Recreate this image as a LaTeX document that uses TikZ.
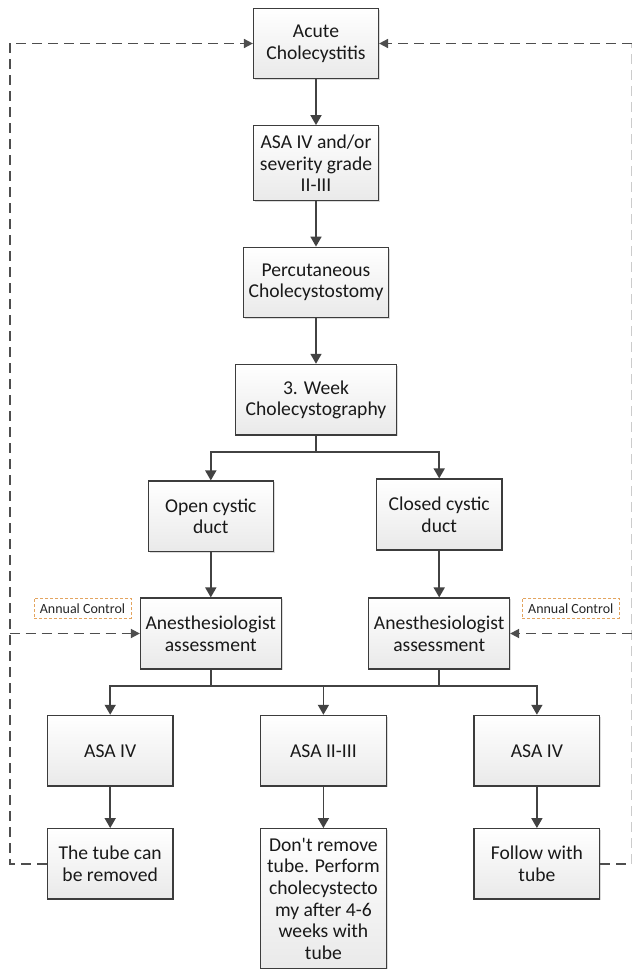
\documentclass[tikz,border=0pt]{standalone}
\usepackage{fontspec}
\setmainfont{Carlito}
\usetikzlibrary{arrows.meta,shadows,calc}
\definecolor{boxline}{HTML}{3C3C3C}
\definecolor{arrcol}{HTML}{424242}
\definecolor{dashcol}{HTML}{4E4E4E}
\definecolor{orangeline}{HTML}{E3A45F}
\begin{document}
\begin{tikzpicture}[x=1pt,y=-1pt,
  box/.style={draw=boxline, line width=1.2pt, top color=white, bottom color=gray!17,
    drop shadow={shadow xshift=1.4pt, shadow yshift=-1.4pt, opacity=0.28},
    align=center, inner sep=2pt, font=\fontsize{19.6}{21.6}\selectfont, text=black!90},
  arr/.style={draw=arrcol, line width=1.7pt, -{Triangle[length=10pt,width=11pt]}},
  plain/.style={draw=arrcol, line width=1.7pt},
  darr/.style={draw=dashcol, line width=1.7pt, dash pattern=on 10pt off 6pt, -{Triangle[length=9pt,width=9pt]}},
  dline/.style={draw=dashcol, line width=1.7pt, dash pattern=on 10pt off 6pt},
  note/.style={draw=orangeline, line width=0.9pt, dash pattern=on 3pt off 2pt, fill=white,
    minimum width=97pt, minimum height=20pt, inner sep=0pt,
    font=\fontsize{14}{15}\selectfont, text=black!85}
]
\useasboundingbox (0,0) rectangle (634,969);
\fill[white] (0,0) rectangle (634,969);

% main chain
\node[box, minimum width=125pt, minimum height=70.4pt] (acute) at (316,43.5) {Acute\\Cholecystitis};
\node[box, minimum width=125pt, minimum height=75pt] (asa1) at (316,163.2) {ASA IV and/or\\severity grade\\II-III};
\node[box, minimum width=145.4pt, minimum height=70pt] (perc) at (316,282.2) {Percutaneous\\Cholecystostomy};
\node[box, minimum width=160.7pt, minimum height=70.7pt] (week) at (316,399.7) {3. Week\\Cholecystography};

% ducts
\node[box, minimum width=125pt, minimum height=70.7pt] (open) at (210.8,516.4) {Open cystic\\duct};
\node[box, minimum width=125.4pt, minimum height=71pt] (closed) at (439.2,514.5) {Closed cystic\\duct};

% anesthesiologist
\node[box, minimum width=140.7pt, minimum height=71pt] (anl) at (210.8,633.5) {Anesthesiologist\\assessment};
\node[box, minimum width=140.7pt, minimum height=71pt] (anr) at (439.2,633.5) {Anesthesiologist\\assessment};

% annual control notes
\node[note] (notel) at (82.5,608.3) {Annual Control};
\node[note] (noter) at (570.8,608.3) {Annual Control};

% ASA row
\node[box, minimum width=125.7pt, minimum height=70.7pt] (asal) at (110.2,750.7) {ASA IV};
\node[box, minimum width=125.7pt, minimum height=70.7pt] (asam) at (323.4,750.7) {ASA II-III};
\node[box, minimum width=125.7pt, minimum height=70.7pt] (asar) at (536.9,750.7) {ASA IV};

% bottom row
\node[box, minimum width=125.7pt, minimum height=70.3pt] (tube) at (110.2,863.8) {The tube can\\be removed};
\node[box, minimum width=125.7pt, minimum height=140pt] (dont) at (323.4,898.7) {Don\textquotesingle t remove\\tube. Perform\\cholecystecto\\my after 4-6\\weeks with\\tube};
\node[box, minimum width=125.7pt, minimum height=70.3pt] (follow) at (536.9,863.8) {Follow with\\tube};

% helper coordinates
\coordinate (split) at (316,452.3);
\coordinate (bar) at (0,686);
\coordinate (lx) at (9.7,0);
\coordinate (rx) at (631.5,0);

% solid connectors
\draw[arr] (acute) -- (asa1);
\draw[arr] (asa1) -- (perc);
\draw[arr] (perc) -- (week);
\draw[plain] (week.south) -- (split);
\draw[arr] (split) -| (open.north);
\draw[arr] (split) -| (closed.north);
\draw[arr] (open) -- (anl);
\draw[arr] (closed) -- (anr);
\draw[plain] (anl.south) -- (anl.south |- bar);
\draw[plain] (anr.south) -- (anr.south |- bar);
\draw[plain] (anl.south |- bar) -- (anr.south |- bar);
\draw[arr] (anl.south |- bar) -| (asal.north);
\draw[arr] (anr.south |- bar) -| (asar.north);
\draw[arr] (asam.north |- bar) -- (asam.north);
\draw[arr] (asal) -- (tube);
\draw[arr] (asam) -- (dont);
\draw[arr] (asar) -- (follow);

% dashed feedback loops
\draw[darr] (tube.west) -- (tube.west -| lx) |- (acute.west);
\draw[darr] (lx |- anl.west) -- (anl.west);
\draw[dline] (follow.east) -- (follow.east -| rx);
\draw[dline, draw=gray!40] (follow.east -| rx) -- (rx |- acute.east);
\draw[darr] (rx |- acute.east) -- (acute.east);
\draw[darr] (rx |- anr.east) -- (anr.east);
\end{tikzpicture}
\end{document}
